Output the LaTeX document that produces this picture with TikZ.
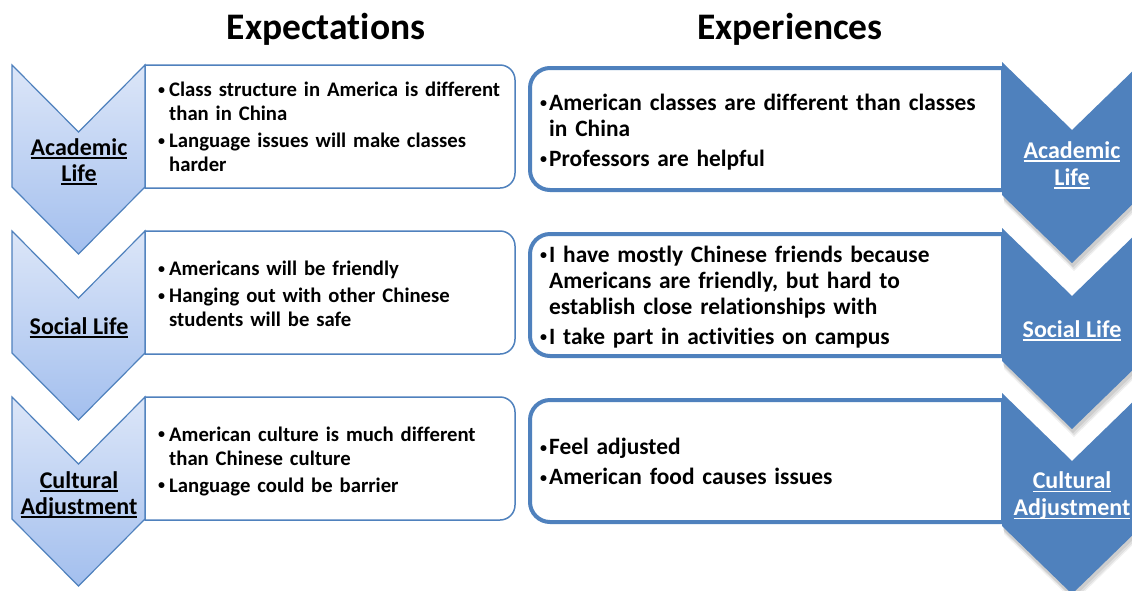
\documentclass[tikz,border=0pt]{standalone}
\usepackage{fontspec}
\setmainfont{Carlito}[Ligatures=NoCommon]
\definecolor{accent}{HTML}{4F81BD}
\definecolor{chevtop}{HTML}{DCE6F8}
\definecolor{chevbot}{HTML}{A3BFEE}
\newcommand{\ulx}[1]{\setbox0\hbox{#1}\leavevmode\rlap{\rule[-3.2pt]{\wd0}{1.6pt}}\box0}
\newcommand{\smbul}{\raisebox{0.12em}{\fontsize{14}{14}\selectfont\textbullet}}
\newcommand{\bitemL}[1]{\par\hangindent=11pt\hangafter=1\noindent\hbox to 11pt{\smbul\hss}#1\par}
\newcommand{\bitemR}[1]{\par\hangindent=9pt\hangafter=1\noindent\hbox to 9pt{\smbul\hss}#1\par}
\newcommand{\nl}{\hfil\break}
\newcommand{\leftchev}[1]{%
  \path[top color=chevtop,bottom color=chevbot,draw=accent,line width=1.2pt,line join=miter]
    (12,#1) -- (78.5,#1+67) -- (145,#1) -- (145,#1+122) -- (78.5,#1+189) -- (12,#1+122) -- cycle;}
\newcommand{\leftbox}[1]{%
  \draw[accent,line width=1.5pt,fill=white]
    (145,#1) -- (500,#1) .. controls (508.3,#1) and (515,#1+6.7) .. (515,#1+15)
    -- (515,#1+108) .. controls (515,#1+116.3) and (508.3,#1+123) .. (500,#1+123)
    -- (145,#1+123) -- cycle;}
\newcommand{\rightbox}[1]{%
  \draw[accent,line width=4pt,fill=white]
    (1003,#1) -- (550,#1) .. controls (539,#1) and (530,#1+9) .. (530,#1+20)
    -- (530,#1+102) .. controls (530,#1+113) and (539,#1+122) .. (550,#1+122)
    -- (1003,#1+122) -- cycle;}
\newcommand{\chevshape}[3]{% dx dy top
  (1002+#1,#3+#2) -- (1072+#1,#3+68+#2) -- (1142+#1,#3+#2) -- (1142+#1,#3+133+#2)
  -- (1072+#1,#3+201+#2) -- (1002+#1,#3+133+#2) -- cycle}
\newcommand{\rightchev}[1]{%
  \fill[black,opacity=0.06] \chevshape{2}{8}{#1};
  \fill[black,opacity=0.07] \chevshape{2}{6}{#1};
  \fill[black,opacity=0.08] \chevshape{1}{4}{#1};
  \fill[accent] \chevshape{0}{0}{#1};}
\tikzset{
  title/.style={font=\fontsize{37.5}{40}\selectfont\bfseries,text=black,inner sep=0pt},
  ltext/.style={anchor=west,inner sep=0pt,text width=360pt,align=left,
    font=\fontsize{20.7}{24}\selectfont\bfseries},
  rtext/.style={anchor=west,inner sep=0pt,text width=460pt,align=left,
    font=\fontsize{23.4}{26}\selectfont\bfseries},
  llabel/.style={inner sep=0pt,align=center,text=black,
    font=\fontsize{24}{26}\selectfont\bfseries},
  rlabel/.style={inner sep=0pt,align=center,text=white,
    font=\fontsize{24}{27}\selectfont\bfseries},
}
\begin{document}
\begin{tikzpicture}[x=1pt,y=-1pt]
\useasboundingbox[fill=white] (0,0) rectangle (1132,590);
% titles
\node[title] (t1) at (326,29) {Expectations};
\node[title] (t2) at (790,29) {Experiences};
% left side
\leftbox{65}\leftbox{231}\leftbox{397}
\leftchev{65}\leftchev{231}\leftchev{397}
\node[llabel] (la) at (79,162) {\ulx{Academic}\\\ulx{Life}};
\node[llabel] (ls) at (79,328) {\ulx{Social Life}};
\node[llabel] (lc) at (79,495) {\ulx{Cultural}\\\ulx{Adjustment}};
\node[ltext] (ea) at (158,121) {\setlength{\parskip}{3pt}%
  \bitemL{Class structure in America is different\nl than in China}
  \bitemL{Language issues will make classes\nl harder}};
\node[ltext] (es) at (158,288) {\setlength{\parskip}{3pt}%
  \bitemL{Americans will be friendly}
  \bitemL{Hanging out with other Chinese\nl students will be safe}};
\node[ltext] (ec) at (158,455) {\setlength{\parskip}{3pt}%
  \bitemL{American culture is much different\nl than Chinese culture}
  \bitemL{Language could be barrier}};
% right side
\rightbox{68}\rightbox{234}\rightbox{400}
\rightchev{62}\rightchev{228}\rightchev{393}
\node[rlabel] (ra) at (1072,165) {\ulx{Academic}\\\ulx{Life}};
\node[rlabel] (rs) at (1072,331) {\ulx{Social Life}};
\node[rlabel] (rc) at (1072,496) {\ulx{Cultural}\\\ulx{Adjustment}};
\node[rtext] (xa) at (540,125) {\setlength{\parskip}{4pt}%
  \bitemR{American classes are different than classes\nl in China}
  \bitemR{Professors are helpful}};
\node[rtext] (xs) at (540,290) {\setlength{\parskip}{4pt}%
  \bitemR{I have mostly Chinese friends because\nl Americans are friendly, but hard to\nl establish close relationships with}
  \bitemR{I take part in activities on campus}};
\node[rtext] (xc) at (540,455) {\setlength{\parskip}{4pt}%
  \bitemR{Feel adjusted}
  \bitemR{American food causes issues}};
\end{tikzpicture}
\end{document}
